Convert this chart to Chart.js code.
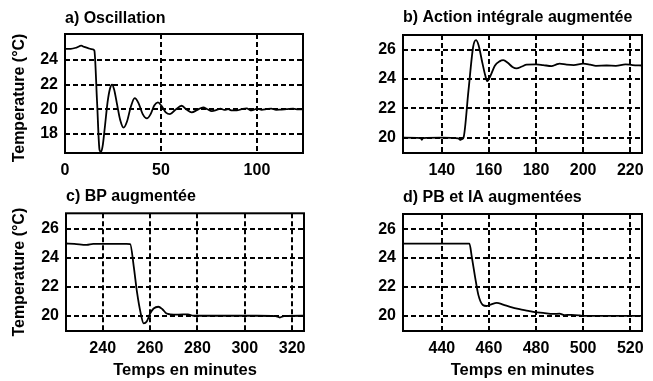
<!DOCTYPE html>
<html><head><meta charset="utf-8">
<script src="https://cdn.jsdelivr.net/npm/chart.js@4.4.0/dist/chart.umd.min.js"></script>
<style>
html,body{margin:0;padding:0;background:#fff;width:653px;height:381px;overflow:hidden;}
canvas{position:absolute;}
</style></head><body>
<canvas id="ca" width="330" height="180" style="left:0;top:0;width:330px;height:180px"></canvas>
<canvas id="cb" width="323" height="180" style="left:330px;top:0;width:323px;height:180px"></canvas>
<canvas id="cc" width="330" height="201" style="left:0;top:180px;width:330px;height:201px"></canvas>
<canvas id="cd" width="323" height="201" style="left:330px;top:180px;width:323px;height:201px"></canvas>
<script>
// ---- data ----
const titleA = 'a) Oscillation';
const titleB = 'b) Action intégrale augmentée';
const titleC = 'c) BP augmentée';
const titleD = 'd) PB et IA augmentées';
const yTitle = 'Temperature (°C)';
const xTitle = 'Temps en minutes';

const timeA = [0, 3, 6, 8.5, 10, 12, 14.5, 15.3, 16.7, 18.0, 18.8, 19.6, 20.8, 22.2, 23.5, 24.5, 25.6, 27.0, 28.8, 30.5, 32.3, 34.3, 36.3, 38.3, 40.5, 42.7, 44.6, 46.5, 48.4, 50.4, 52.5, 54.7, 57.5, 60.8, 63.5, 66.0, 69.0, 72.0, 74.2, 76.5, 79, 81, 83, 85, 87, 89.5, 92, 94.6, 97.2, 100.2, 102.5, 105, 107.5, 110, 112.5, 115.5, 118.9, 121.5, 124];
const tempA = [24.9, 24.9, 25.0, 25.15, 25.05, 24.95, 24.85, 24.75, 20.6, 16.7, 16.55, 17.0, 18.6, 20.6, 21.7, 22.0, 21.6, 20.5, 19.1, 18.5, 19.0, 20.2, 20.9, 20.5, 19.6, 19.25, 19.6, 20.3, 20.55, 20.25, 19.75, 19.6, 19.95, 20.28, 19.95, 19.75, 19.95, 20.15, 20.0, 19.85, 19.95, 20.05, 19.95, 20.0, 19.9, 19.9, 20.0, 20.07, 19.9, 20.05, 19.95, 20.0, 20.05, 19.95, 19.97, 20.0, 20.05, 19.98, 20.0];

const timeB = [123.5, 131, 131.5, 132, 140, 147, 147.7, 148.5, 149.2, 151.3, 153.3, 154.5, 155.6, 157.2, 158.5, 159.3, 160.6, 162.5, 164.5, 166.1, 168, 170, 171.7, 174, 176, 180, 183, 186.6, 188.5, 190, 193, 196, 200, 203, 205.4, 210, 213.9, 218, 221, 225];
const tempB = [20.0, 19.97, 19.85, 19.97, 20.0, 19.95, 19.85, 19.9, 20.0, 23.2, 26.2, 26.65, 26.3, 25.1, 24.2, 23.85, 24.2, 24.9, 25.2, 25.28, 25.1, 24.82, 24.72, 24.85, 24.98, 25.0, 24.95, 24.88, 24.98, 25.05, 24.98, 24.95, 25.05, 24.98, 24.9, 24.92, 24.9, 25.0, 24.95, 24.92];

const timeC = [224.5, 228, 233.2, 236, 240, 245, 250, 251.6, 253.1, 254.5, 256, 257.3, 258.6, 260, 261.5, 263.5, 265.2, 267, 268.5, 272, 276, 278.2, 285, 295, 305, 313, 314.8, 316.5, 325];
const tempC = [24.97, 24.95, 24.88, 24.95, 24.95, 24.95, 24.95, 24.93, 23.4, 21.6, 20.2, 19.47, 19.6, 20.15, 20.5, 20.62, 20.45, 20.15, 20.1, 20.08, 20.1, 20.0, 20.0, 20.0, 20.0, 19.98, 19.88, 19.98, 20.0];

const timeD = [423.5, 440, 451.7, 452.7, 454.1, 455.5, 457.4, 459, 461, 463.3, 466, 469, 473, 476.7, 479.5, 483, 487.2, 490, 492, 495, 498.5, 500, 510, 525];
const tempD = [25.0, 25.0, 25.0, 24.1, 22.7, 21.45, 20.75, 20.68, 20.8, 20.9, 20.78, 20.62, 20.46, 20.35, 20.25, 20.2, 20.13, 20.15, 20.05, 20.07, 20.03, 20.0, 20.0, 20.0];

const xTicksA = [0, 50, 100];
const xTicksB = [140, 160, 180, 200, 220];
const xTicksC = [240, 260, 280, 300, 320];
const xTicksD = [440, 460, 480, 500, 520];
const yTicksA = [18, 20, 22, 24];
const yTicksB = [20, 22, 24, 26];
const yTicksC = [20, 22, 24, 26];
const yTicksD = [20, 22, 24, 26];

const xRangeA = [0, 124], yRangeA = [16.45, 26.1];
const xRangeB = [123.5, 225], yRangeB = [18.95, 27.0];
const xRangeC = [224.5, 325], yRangeC = [18.95, 27.05];
const xRangeD = [423.5, 525], yRangeD = [18.95, 27.05];

// ---- rendering ----
const FONT = "'Liberation Sans', Arial, sans-serif";
const framePlugin = {
  id: 'frame',
  afterDraw(chart) {
    const {ctx, chartArea: a} = chart;
    ctx.save();
    ctx.strokeStyle = '#000';
    ctx.lineWidth = 2;
    ctx.setLineDash([]);
    ctx.strokeRect(a.left, a.top, a.right - a.left, a.bottom - a.top);
    ctx.restore();
  }
};

function makePanel(id, g, title, xs, ys, xTicks, yTicks, xr, yr, showY, showX) {
  const tickFont = {family: FONT, weight: 'bold', size: 16};
  new Chart(document.getElementById(id), {
    type: 'line',
    data: {datasets: [{
      data: xs.map((x, i) => ({x: x, y: ys[i]})),
      borderColor: '#000', borderWidth: 1.8, pointRadius: 0,
      cubicInterpolationMode: 'monotone', fill: false
    }]},
    options: {
      responsive: false, animation: false, events: [],
      layout: {padding: {left: 0, right: g.padR, top: g.padT, bottom: 0}},
      plugins: {
        legend: {display: false}, tooltip: {enabled: false},
        title: {display: true, text: title, align: 'start', fullSize: false, color: '#000',
                font: {family: FONT, weight: 'bold', size: 16}, padding: {top: 0, bottom: g.titleB}}
      },
      scales: {
        x: {
          type: 'linear', min: xr[0], max: xr[1],
          afterBuildTicks: s => { s.ticks = xTicks.map(v => ({value: v})); },
          afterFit: s => { s.height = g.xH; },
          grid: {color: '#000', lineWidth: 2, drawTicks: false},
          border: {display: false, dash: [5, 3]},
          ticks: {color: '#000', font: tickFont, padding: 8, maxRotation: 0, autoSkip: false},
          title: {display: showX, text: xTitle, color: '#000', font: {family: FONT, weight: 'bold', size: 16.5}, padding: {top: 0, bottom: 1}}
        },
        y: {
          type: 'linear', min: yr[0], max: yr[1],
          afterBuildTicks: s => { s.ticks = yTicks.map(v => ({value: v})); },
          afterFit: s => { s.width = g.yW; },
          grid: {color: '#000', lineWidth: 2, drawTicks: false},
          border: {display: false, dash: [5, 3]},
          ticks: {color: '#000', font: tickFont, padding: 7, autoSkip: false},
          title: {display: showY, text: yTitle + g.yTail, color: '#000', font: {family: FONT, weight: 'bold', size: 16}, padding: {top: 10.4, bottom: 0}}
        }
      }
    },
    plugins: [framePlugin]
  });
}

makePanel('ca', {yW: 65, padR: 27, padT: 8.8, titleB: 6, xH: 27, yTail: '  '}, titleA, timeA, tempA, xTicksA, yTicksA, xRangeA, yRangeA, true, false);
makePanel('cb', {yW: 73, padR: 11, padT: 7.8, titleB: 8, xH: 27, yTail: ''}, titleB, timeB, tempB, xTicksB, yTicksB, xRangeB, yRangeB, false, false);
makePanel('cc', {yW: 66, padR: 26, padT: 7.1, titleB: 7, xH: 50, yTail: ''}, titleC, timeC, tempC, xTicksC, yTicksC, xRangeC, yRangeC, true, true);
makePanel('cd', {yW: 73, padR: 11, padT: 8.4, titleB: 6.4, xH: 50, yTail: ''}, titleD, timeD, tempD, xTicksD, yTicksD, xRangeD, yRangeD, false, true);
</script>
</body></html>
